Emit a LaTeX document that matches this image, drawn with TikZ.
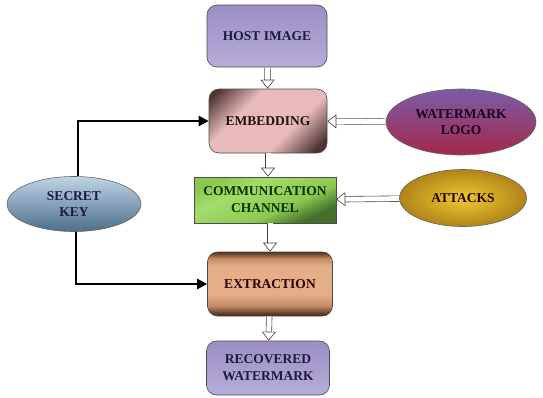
\documentclass[tikz,border=0pt]{standalone}
\usepackage{fontspec}
\setmainfont{Liberation Serif}
\usetikzlibrary{arrows.meta,shapes.geometric}

\definecolor{lavtop}{HTML}{9C8EC4}
\definecolor{lavbot}{HTML}{B6ACDA}
\definecolor{inktext}{HTML}{1C1C3C}
\definecolor{embdark}{HTML}{4A3432}
\definecolor{embpink}{HTML}{E8BABA}
\definecolor{chanlight}{HTML}{A4DC6A}
\definecolor{chanmid}{HTML}{8CC850}
\definecolor{chandark}{HTML}{44702A}
\definecolor{extdark}{HTML}{4A2E1C}
\definecolor{extpeach}{HTML}{E4AE86}
\definecolor{extmid}{HTML}{C48C64}

% colour ramps for the blocks (0bp is the bottom)
\pgfdeclareverticalshading{embshade}{100bp}{color(0bp)=(embdark); color(20bp)=(embdark);
  color(38bp)=(embpink); color(64bp)=(embpink); color(82bp)=(embdark); color(100bp)=(embdark)}
\pgfdeclareverticalshading{chanshade}{100bp}{color(0bp)=(chandark); color(27bp)=(chandark);
  color(40bp)=(chanmid); color(62bp)=(chanlight); color(75bp)=(chanmid); color(100bp)=(chanmid)}
\pgfdeclareverticalshading{extshade}{100bp}{color(0bp)=(extdark); color(26bp)=(extdark);
  color(33bp)=(extmid); color(42bp)=(extpeach); color(64bp)=(extpeach); color(70bp)=(extmid);
  color(75bp)=(extdark); color(100bp)=(extdark)}

\tikzset{
  block/.style={draw=black!70, line width=0.6pt, rounded corners=10pt, inner sep=0pt,
    align=center, font=\fontsize{13.5}{17}\selectfont\bfseries, text=inktext},
  oval/.style={ellipse, draw=black!60, line width=0.6pt, inner sep=0pt,
    align=center, font=\fontsize{13.5}{16}\selectfont\bfseries, text=inktext},
  keyarrow/.style={line width=2.6pt, -{Triangle[width=10pt,length=10pt]}},
  hollow/.style={double=white, draw=black!75, line width=0.6pt, double distance=5pt,
    -{Triangle[open,fill=white,width=14pt,length=9pt,line width=0.6pt]}}
}

\begin{document}
\begin{tikzpicture}[x=1pt,y=-1pt]
\useasboundingbox (0,0) rectangle (543,397);

% main chain of blocks
\node[block, minimum width=120pt, minimum height=62pt, top color=lavtop, bottom color=lavbot]
  (host) at (267,36) {HOST IMAGE};
\node[block, minimum width=118pt, minimum height=64pt, text=black!85!brown,
  shading=embshade, shading angle=45]
  (emb) at (268,121) {EMBEDDING};
\node[block, rounded corners=0pt, minimum width=142pt, minimum height=46pt, text=black!80!green,
  shading=chanshade, shading angle=25]
  (chan) at (265,200) {COMMUNICATION\\CHANNEL};
\node[block, minimum width=125pt, minimum height=64pt, text=black!85!red,
  shading=extshade]
  (ext) at (270,284) {EXTRACTION};
\node[block, minimum width=123pt, minimum height=54pt, top color=lavtop, bottom color=lavbot]
  (rec) at (268,368) {RECOVERED\\WATERMARK};

% side inputs
\node[oval, minimum width=150pt, minimum height=66pt, text=black!80!violet,
  top color={rgb,255:red,122;green,92;blue,168}, bottom color={rgb,255:red,164;green,40;blue,72}]
  (logo) at (461,122) {WATERMARK\\LOGO};
\node[oval, minimum width=127pt, minimum height=57pt, text=black!85!red,
  inner color={rgb,255:red,240;green,200;blue,50}, outer color={rgb,255:red,176;green,132;blue,24}]
  (att) at (463,198) {ATTACKS};
\node[oval, minimum width=134pt, minimum height=55pt,
  top color={rgb,255:red,190;green,212;blue,230}, bottom color={rgb,255:red,78;green,110;blue,138}]
  (key) at (74,204) {SECRET\\KEY};

% data flow
\draw[hollow] (host) -- (emb);
\draw[hollow] (emb) -- (emb |- chan.north);
\draw[hollow] (chan.south -| ext.north) -- (ext);
\draw[hollow] (ext) -- (rec);
\draw[hollow] (logo) -- (emb);
\draw[hollow] (att) -- (chan);

% key paths
\draw[keyarrow] ([xshift=4pt]key.north) |- (emb);
\draw[keyarrow] ([xshift=2pt]key.south) |- (ext);
\end{tikzpicture}
\end{document}
